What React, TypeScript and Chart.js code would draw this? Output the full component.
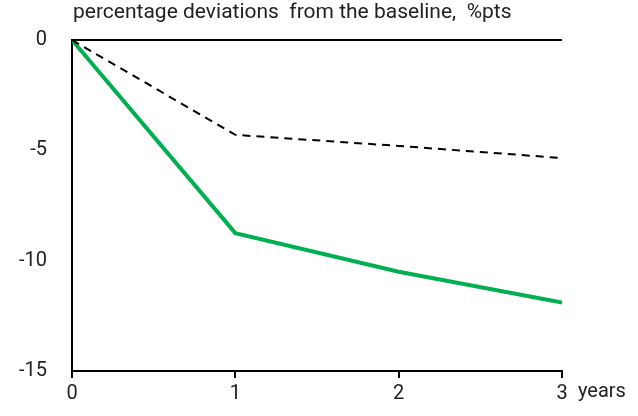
import React, { useEffect, useRef } from "react";
import { Chart, registerables } from "chart.js";

Chart.register(...registerables);

const years = [0, 1, 2, 3];
const greenSeries = [0, -8.75, -10.5, -11.9];
const dashedSeries = [0, -4.3, -4.8, -5.35];
const yTicks = [-15, -10, -5, 0];
const titleText = "percentage deviations  from the baseline,  %pts";
const xUnit = "years";

const FONT = "Roboto, 'Open Sans', sans-serif";

const textPlugin = {
  id: "textPlugin",
  afterDraw(chart: any) {
    const { ctx, chartArea } = chart;
    ctx.save();
    ctx.fillStyle = "#222";
    ctx.textBaseline = "middle";
    ctx.textAlign = "left";
    ctx.font = `21px ${FONT}`;
    ctx.fillText(titleText, chartArea.left + 1, 13);
    ctx.font = `20px ${FONT}`;
    ctx.fillText(xUnit, chartArea.right + 16, 392);
    ctx.restore();
  },
};

export default function App() {
  const ref = useRef<HTMLCanvasElement>(null);
  useEffect(() => {
    if (!ref.current) return;
    const chart = new Chart(ref.current, {
      type: "line",
      data: {
        datasets: [
          {
            label: "dashed",
            data: years.map((x, i) => ({ x, y: dashedSeries[i] })),
            borderColor: "#000",
            borderWidth: 2,
            borderDash: [8, 6],
            pointRadius: 0,
            fill: false,
            tension: 0,
          },
          {
            label: "green",
            data: years.map((x, i) => ({ x, y: greenSeries[i] })),
            borderColor: "#00B050",
            borderWidth: 4,
            pointRadius: 0,
            fill: false,
            tension: 0,
          },
        ],
      },
      options: {
        animation: false,
        responsive: true,
        maintainAspectRatio: false,
        layout: { padding: { top: 40, right: 76, left: 0, bottom: 0 } },
        plugins: { legend: { display: false }, tooltip: { enabled: false }, title: { display: false } },
        scales: {
          x: {
            type: "linear",
            min: 0,
            max: 3,
            afterFit: (s: any) => { s.height = 45; },
            afterBuildTicks: (s: any) => { s.ticks = years.map((v) => ({ value: v })); },
            ticks: { color: "#222", font: { size: 20, family: FONT }, padding: 4 },
            grid: { drawOnChartArea: false, drawTicks: true, tickLength: 7, color: "#000", lineWidth: 2 },
            border: { display: true, color: "#000", width: 2 },
          },
          y: {
            min: -15,
            max: 0,
            afterFit: (s: any) => { s.width = 72; },
            afterBuildTicks: (s: any) => { s.ticks = yTicks.map((v) => ({ value: v })); },
            ticks: { color: "#222", font: { size: 20, family: FONT }, padding: 25 },
            grid: {
              drawTicks: false,
              color: (c: any) => (c.tick && c.tick.value === 0 ? "#000" : "rgba(0,0,0,0)"),
              lineWidth: 2,
            },
            border: { display: true, color: "#000", width: 2 },
          },
        },
      },
      plugins: [textPlugin],
    });
    return () => chart.destroy();
  }, []);
  return (
    <div style={{ position: "fixed", left: 0, top: 0, width: 638, height: 416, background: "#fff" }}>
      <canvas ref={ref} />
    </div>
  );
}
